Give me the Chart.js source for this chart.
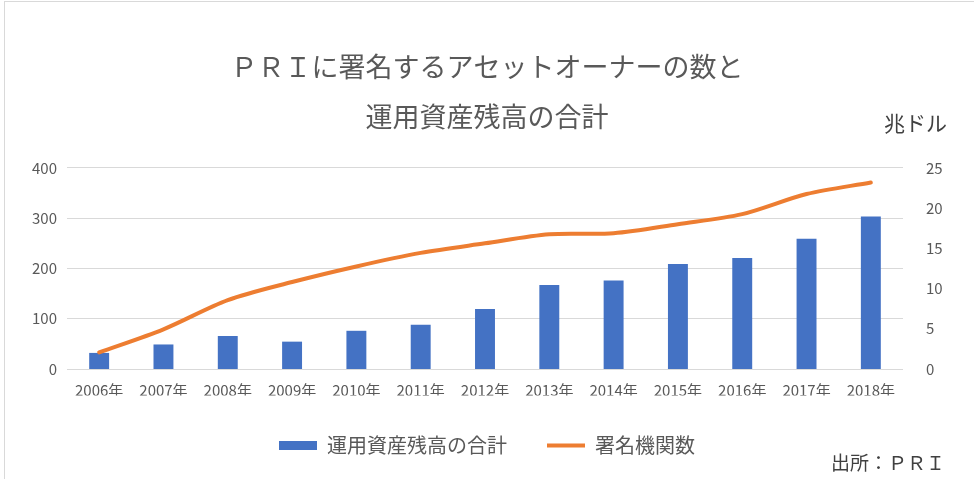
<!DOCTYPE html>
<html>
<head>
<meta charset="utf-8">
<script src="https://cdn.jsdelivr.net/npm/chart.js@4"></script>
<style>
  html, body { margin: 0; padding: 0; background: #ffffff; overflow: hidden; }
  #wrap { position: relative; width: 974px; height: 479px; overflow: hidden; }
  #frame { position: absolute; left: 4px; top: 1px; width: 2000px; height: 2000px;
           border-top: 1px solid #d9d9d9; border-left: 1px solid #d9d9d9; box-sizing: border-box; }
  canvas { position: absolute; left: 0; top: 0; }
  .note { position: absolute; font-family: "Noto Sans CJK JP", "Noto Sans", sans-serif; color: #404040; white-space: nowrap; line-height: 1; }
</style>
</head>
<body>
<div id="wrap">
  <div id="frame"></div>
  <canvas id="c" width="974" height="479"></canvas>
  <div class="note" id="unit" style="left:884px; top:112px; font-size:21px;">兆ドル</div>
  <div class="note" id="src" style="left:831px; top:452px; font-size:19px;">出所：ＰＲＩ</div>
</div>
<script>
// ---- data ----
const categories = ['2006年','2007年','2008年','2009年','2010年','2011年','2012年','2013年','2014年','2015年','2016年','2017年','2018年'];
const aumTotal = [2.0, 3.05, 4.1, 3.4, 4.75, 5.5, 7.45, 10.45, 11.0, 13.05, 13.8, 16.2, 18.95];   // 兆ドル (right axis)
const signatories = [33, 79, 137, 173, 204, 231, 250, 268, 270, 288, 308, 348, 371];            // 署名機関数 (left axis)
const titleLines = ['ＰＲＩに署名するアセットオーナーの数と', '運用資産残高の合計'];
const seriesNames = ['運用資産残高の合計', '署名機関数'];

const FONT = '"Noto Sans CJK JP", "Noto Sans", sans-serif';
const TXT = '#595959';

new Chart(document.getElementById('c'), {
  data: {
    labels: categories,
    datasets: [
      {
        type: 'bar',
        label: seriesNames[0],
        data: aumTotal,
        yAxisID: 'yR',
        backgroundColor: '#4472C4',
        borderWidth: 0,
        barPercentage: 0.31,
        categoryPercentage: 1.0,
        pointStyle: 'rect',
        order: 1
      },
      {
        type: 'line',
        label: seriesNames[1],
        data: signatories,
        yAxisID: 'yL',
        borderColor: '#ED7D31',
        backgroundColor: '#ED7D31',
        borderWidth: 4,
        borderCapStyle: 'round',
        borderJoinStyle: 'round',
        pointRadius: 0,
        pointHoverRadius: 0,
        pointStyle: 'line',
        tension: 0.3,
        fill: false,
        order: 0
      }
    ]
  },
  options: {
    responsive: false,
    animation: false,
    devicePixelRatio: 1,
    layout: { padding: { left: 0, right: 0, top: 0, bottom: 13.5 } },
    plugins: {
      tooltip: { enabled: false },
      title: {
        display: true,
        text: titleLines,
        color: TXT,
        font: { family: FONT, size: 27, weight: 'normal', lineHeight: 1.85 },
        padding: { top: 42, bottom: 26 }
      },
      legend: {
        display: true,
        position: 'bottom',
        labels: {
          usePointStyle: true,
          pointStyleWidth: 38,
          boxHeight: 9,
          padding: 40,
          color: TXT,
          font: { family: FONT, size: 20 },
          sort: (a, b) => a.datasetIndex - b.datasetIndex
        }
      }
    },
    scales: {
      x: {
        grid: { display: false, drawTicks: false },
        border: { display: false },
        ticks: { color: TXT, font: { family: FONT, size: 15 }, padding: 12, maxRotation: 0, autoSkip: false },
        afterFit: (s) => { s.height = 26.5; }
      },
      yL: {
        position: 'left',
        min: 0, max: 400,
        ticks: { stepSize: 100, color: TXT, font: { family: FONT, size: 15 }, padding: 10 },
        grid: { color: '#d9d9d9', lineWidth: 1, drawTicks: false },
        border: { display: false },
        afterFit: (s) => { s.width = 67; }
      },
      yR: {
        position: 'right',
        min: 0, max: 25,
        ticks: { stepSize: 5, color: TXT, font: { family: FONT, size: 15 }, padding: 23 },
        grid: { display: false, drawTicks: false },
        border: { display: false },
        afterFit: (s) => { s.width = 71; }
      }
    }
  }
});
</script>
</body>
</html>
